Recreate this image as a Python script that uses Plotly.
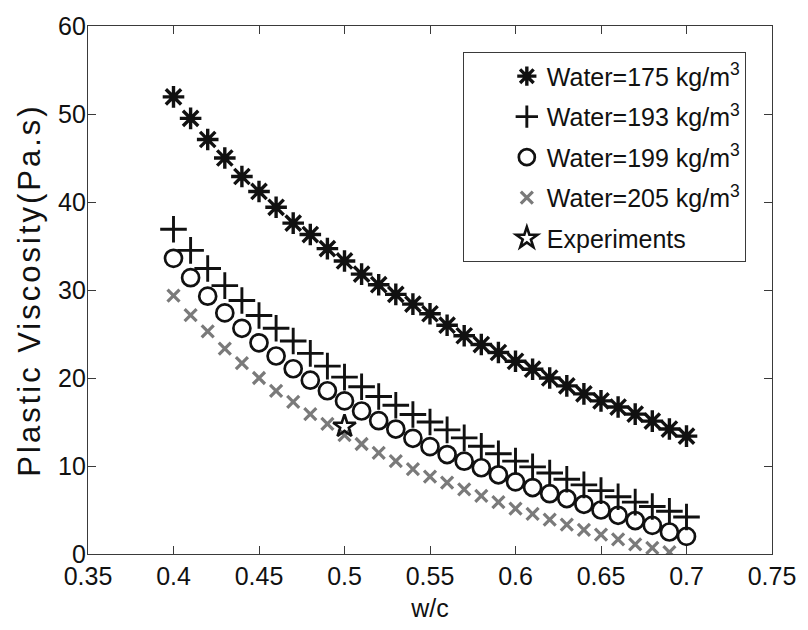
import plotly.graph_objects as go

# water/cement ratios used for the model curves
wc = [0.40, 0.41, 0.42, 0.43, 0.44, 0.45, 0.46, 0.47, 0.48, 0.49, 0.50,
      0.51, 0.52, 0.53, 0.54, 0.55, 0.56, 0.57, 0.58, 0.59, 0.60,
      0.61, 0.62, 0.63, 0.64, 0.65, 0.66, 0.67, 0.68, 0.69, 0.70]

# plastic viscosity (Pa.s) for each water content
visc_175 = [51.95, 49.5, 47.1, 45.0, 42.9, 41.2, 39.4, 37.6, 36.3, 34.7, 33.3,
            31.8, 30.6, 29.5, 28.4, 27.3, 26.0, 24.8, 23.8, 22.9, 21.9,
            21.0, 20.0, 19.1, 18.2, 17.4, 16.7, 15.9, 15.1, 14.2, 13.4]
visc_193 = [36.9, 34.5, 32.45, 30.5, 28.8, 27.1, 25.65, 24.2, 22.8, 21.35, 20.1,
            19.0, 17.9, 16.9, 15.85, 15.0, 14.1, 13.2, 12.25, 11.4, 10.55,
            9.9, 9.2, 8.5, 7.85, 7.2, 6.5, 5.9, 5.4, 4.85, 4.2]
visc_199 = [33.6, 31.4, 29.3, 27.4, 25.65, 24.0, 22.5, 21.05, 19.75, 18.55, 17.4,
            16.25, 15.15, 14.2, 13.15, 12.2, 11.3, 10.55, 9.8, 9.0, 8.2,
            7.55, 6.85, 6.3, 5.65, 5.0, 4.4, 3.8, 3.25, 2.5, 2.0]
wc_205 = wc[:-1]
visc_205 = [29.35, 27.15, 25.3, 23.35, 21.7, 20.0, 18.55, 17.3, 15.9, 14.8, 13.5,
            12.5, 11.5, 10.55, 9.65, 8.8, 8.1, 7.35, 6.6, 5.9, 5.15,
            4.55, 3.9, 3.35, 2.75, 2.2, 1.65, 1.1, 0.7, 0.2]

# measured value
exp_wc = [0.50]
exp_visc = [14.5]

series_names = ["Water=175 kg/m<sup>3</sup>", "Water=193 kg/m<sup>3</sup>",
                "Water=199 kg/m<sup>3</sup>", "Water=205 kg/m<sup>3</sup>",
                "Experiments"]

x_tick_vals = [0.35, 0.40, 0.45, 0.50, 0.55, 0.60, 0.65, 0.70, 0.75]
x_tick_text = ["0.35", "0.4", "0.45", "0.5", "0.55", "0.6", "0.65", "0.7", "0.75"]
y_tick_vals = [0, 10, 20, 30, 40, 50, 60]

FONT = "Liberation Sans, Arial, sans-serif"
INK = "#111111"
GREY = "#7a7a7a"

fig = go.Figure()
fig.add_trace(go.Scatter(
    x=wc, y=visc_175, mode="markers", name=series_names[0], legendgroup="a",
    marker=dict(symbol="asterisk-open", size=18, color=INK,
                line=dict(width=3.4, color=INK))))
fig.add_trace(go.Scatter(
    x=wc, y=visc_193, mode="markers", name=series_names[1], legendgroup="b",
    marker=dict(symbol="cross-thin-open", size=19, color=INK,
                line=dict(width=2.9, color=INK))))
fig.add_trace(go.Scatter(
    x=wc, y=visc_199, mode="markers", name=series_names[2], legendgroup="c",
    marker=dict(symbol="circle-open", size=17, color=INK,
                line=dict(width=2.7, color=INK))))
fig.add_trace(go.Scatter(
    x=wc_205, y=visc_205, mode="markers", name=series_names[3], legendgroup="d",
    marker=dict(symbol="x-thin-open", size=12, color=GREY,
                line=dict(width=3.2, color=GREY))))
fig.add_trace(go.Scatter(
    x=exp_wc, y=exp_visc, mode="markers", name=series_names[4], legendgroup="e",
    marker=dict(symbol="star-open", size=17, color=INK,
                line=dict(width=2.6, color=INK))))

axis_common = dict(
    showline=True, linecolor="#3a3a3a", linewidth=1.2, mirror="allticks",
    ticks="inside", ticklen=8, tickwidth=1, tickcolor="#3a3a3a",
    showgrid=False, zeroline=False,
    tickfont=dict(family=FONT, size=25, color=INK),
)

fig.update_layout(
    width=808, height=630,
    margin=dict(l=88, r=28, t=20, b=66),
    paper_bgcolor="white", plot_bgcolor="white",
    font=dict(family=FONT, size=25, color=INK),
    showlegend=True,
    legend=dict(
        x=0.548, y=0.95, xanchor="left", yanchor="top",
        bgcolor="white", bordercolor="#3a3a3a", borderwidth=1,
        font=dict(family=FONT, size=25, color=INK),
        traceorder="grouped", tracegroupgap=5, indentation=43,
        itemsizing="trace",
    ),
    xaxis=dict(range=[0.35, 0.75], tickvals=x_tick_vals, ticktext=x_tick_text,
               title=dict(text="w/c", font=dict(family=FONT, size=25, color=INK),
                          standoff=10),
               **axis_common),
    yaxis=dict(range=[0, 60], tickvals=y_tick_vals, ticklabelstandoff=-4,
               title=dict(text="<span style='letter-spacing:3px'>Plastic Viscosity(Pa.s)</span>",
                          font=dict(family=FONT, size=31, color=INK), standoff=8),
               **axis_common),
)

fig.write_html("out.html")
